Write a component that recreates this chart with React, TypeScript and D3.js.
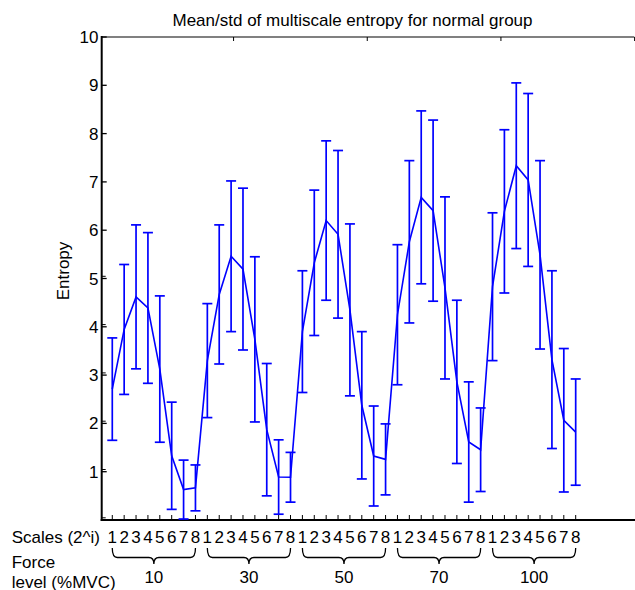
import React from "react";
import * as d3 from "d3";

const forceLevels = ["10", "30", "50", "70", "100"];
const scaleLabels = ["1", "2", "3", "4", "5", "6", "7", "8"];
const yTicks = [0, 1, 2, 3, 4, 5, 6, 7, 8, 9, 10];

const mean10 = [2.71, 3.945, 4.62, 4.39, 3.125, 1.33, 0.63, 0.665];
const std10 = [1.06, 1.345, 1.49, 1.56, 1.515, 1.11, 0.61, 0.475];
const mean30 = [3.3, 4.67, 5.46, 5.195, 3.74, 1.87, 0.89, 0.885];
const std30 = [1.18, 1.44, 1.56, 1.675, 1.71, 1.37, 0.77, 0.515];
const mean50 = [3.9, 5.325, 6.2, 5.915, 4.35, 2.375, 1.325, 1.255];
const std50 = [1.26, 1.505, 1.65, 1.735, 1.78, 1.525, 1.035, 0.735];
const mean70 = [4.25, 5.76, 6.68, 6.405, 4.805, 2.86, 1.615, 1.455];
const std70 = [1.45, 1.68, 1.79, 1.875, 1.885, 1.69, 1.245, 0.865];
const mean100 = [4.83, 6.39, 7.335, 7.04, 5.49, 3.32, 2.065, 1.82];
const std100 = [1.53, 1.69, 1.715, 1.79, 1.95, 1.84, 1.485, 1.1];

const meanGroups = [mean10, mean30, mean50, mean70, mean100];
const stdGroups = [std10, std30, std50, std70, std100];

const FONT = "'Liberation Sans', Arial, Helvetica, sans-serif";

export default function App() {
  const W = 635;
  const H = 590;
  const x = d3.scaleLinear().domain([0, 45]).range([100.4, 635.1]);
  const y = d3.scaleLinear().domain([0, 10]).range([520, 37]);

  const points = meanGroups.flatMap((g, gi) =>
    g.map((m, si) => ({ idx: gi * 8 + si + 1, mean: m, std: stdGroups[gi][si] }))
  );

  const line = d3
    .line<{ idx: number; mean: number }>()
    .x((d) => x(d.idx))
    .y((d) => y(d.mean));

  const blue = "#0000ff";
  const cap = 5;
  const axisLeft = 101.7;
  const axisRight = 635;
  const topTicks = [11.25, 22.5, 33.75, 45];

  return (
    <svg
      width={W}
      height={H}
      style={{ position: "absolute", left: 0, top: 0, background: "#fff" }}
      fontFamily={FONT}
    >
      <rect x={0} y={0} width={W} height={H} fill="#fff" />
      {/* title */}
      <text x={352.5} y={26} textAnchor="middle" fontSize={17} fill="#000">
        Mean/std of multiscale entropy for normal group
      </text>
      {/* top line */}
      <line x1={axisLeft} x2={634.3} y1={y(10)} y2={y(10)} stroke="#808080" strokeWidth={2} />
      {topTicks.map((t) => (
        <line key={"tt" + t} x1={x(t) - 0.5} x2={x(t) - 0.5} y1={y(10)} y2={y(10) + 4} stroke="#000" strokeWidth={1} />
      ))}
      {/* left axis */}
      <line x1={axisLeft} x2={axisLeft} y1={y(10) - 1} y2={y(0) + 1} stroke="#000" strokeWidth={2} />
      {/* bottom axis */}
      <line x1={axisLeft - 1} x2={axisRight} y1={y(0)} y2={y(0)} stroke="#000" strokeWidth={2} />
      {/* y ticks */}
      {yTicks.map((t) => (
        <g key={"yt" + t}>
          <line x1={axisLeft} x2={axisLeft + 5} y1={y(t)} y2={y(t)} stroke="#000" strokeWidth={1.3} />
          {t <= 5 && (
            <line x1={axisLeft} x2={axisLeft + 4} y1={y(t) - 2.2} y2={y(t) - 2.2} stroke="#000" strokeWidth={1} />
          )}
          {t > 0 && (
            <text x={98.5} y={y(t) + 6} textAnchor="end" fontSize={17} fill="#000">
              {t}
            </text>
          )}
        </g>
      ))}
      {/* x ticks */}
      {points.map((p) => (
        <line key={"xt" + p.idx} x1={x(p.idx)} x2={x(p.idx)} y1={y(0)} y2={y(0) - 5} stroke="#000" strokeWidth={1} />
      ))}
      {/* y label */}
      <text transform={`translate(69,271) rotate(-90)`} textAnchor="middle" fontSize={17} fill="#000">
        Entropy
      </text>
      {/* error bars */}
      {points.map((p) => {
        const cx = x(p.idx);
        const yt = y(p.mean + p.std);
        const yb = y(p.mean - p.std);
        return (
          <g key={"eb" + p.idx} stroke={blue} strokeWidth={1.7}>
            <line x1={cx} x2={cx} y1={yt} y2={yb} />
            <line x1={cx - cap} x2={cx + cap} y1={yt} y2={yt} />
            <line x1={cx - cap} x2={cx + cap} y1={yb} y2={yb} />
          </g>
        );
      })}
      {/* mean line */}
      <path d={line(points) || ""} fill="none" stroke={blue} strokeWidth={1.6} />
      {/* bottom labels */}
      <text x={11.7} y={542.5} fontSize={17} fill="#000">
        Scales (2^i)
      </text>
      {points.map((p) => (
        <text key={"sl" + p.idx} x={x(p.idx)} y={542.5} textAnchor="middle" fontSize={17} fill="#000">
          {scaleLabels[(p.idx - 1) % 8]}
        </text>
      ))}
      <text x={11.7} y={567.5} fontSize={17} fill="#000">
        Force
      </text>
      <text x={11.7} y={587.5} fontSize={17} fill="#000">
        level (%MVC)
      </text>
      {forceLevels.map((f, gi) => {
        const x0 = x(gi * 8 + 1);
        const x1 = x(gi * 8 + 8);
        const xm = (x0 + x1) / 2;
        const y0 = 548;
        const y1 = 557.5;
        const y2 = 564;
        const r = 5;
        const d = `M${x0},${y0} Q${x0},${y1} ${x0 + r},${y1} L${xm - r},${y1} Q${xm},${y1} ${xm},${y2} Q${xm},${y1} ${xm + r},${y1} L${x1 - r},${y1} Q${x1},${y1} ${x1},${y0}`;
        return (
          <g key={"br" + f}>
            <path d={d} fill="none" stroke="#000" strokeWidth={1.3} />
            <text x={xm} y={583} textAnchor="middle" fontSize={17} fill="#000">
              {f}
            </text>
          </g>
        );
      })}
    </svg>
  );
}
